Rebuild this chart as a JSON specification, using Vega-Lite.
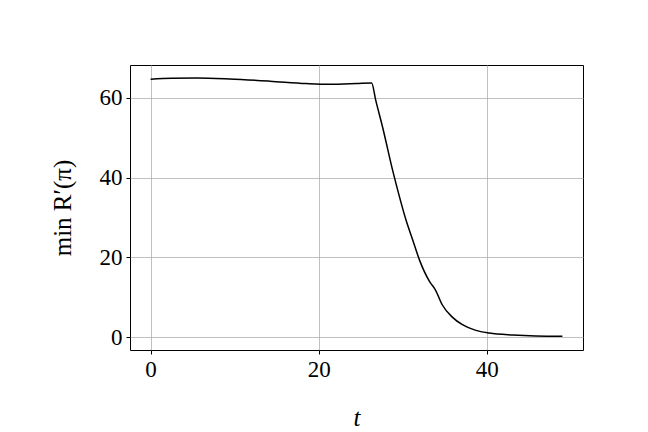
{
  "$schema": "https://vega.github.io/schema/vega-lite/v6.json",
  "width": 453,
  "height": 285,
  "autosize": {"type": "none"},
  "padding": {"left": 130, "top": 65, "right": 65, "bottom": 82},
  "background": "white",
  "config": {
    "view": {"stroke": "black", "strokeWidth": 1},
    "axis": {
      "labelFont": "Liberation Serif",
      "titleFont": "Liberation Serif",
      "labelFontSize": 23,
      "titleFontSize": 25,
      "labelColor": "black",
      "titleColor": "black",
      "titleFontWeight": "normal",
      "domain": false,
      "tickColor": "black",
      "tickSize": 4,
      "tickWidth": 1,
      "labelPadding": 4,
      "gridColor": "#b0b0b0",
      "gridWidth": 0.8
    }
  },
  "data": {
    "values": [
      {"t": 0, "v": 64.7},
      {"t": 2.5, "v": 64.9},
      {"t": 5.5, "v": 65.0},
      {"t": 9.4, "v": 64.75},
      {"t": 14.2, "v": 64.2},
      {"t": 18.5, "v": 63.6},
      {"t": 21.3, "v": 63.4},
      {"t": 24.5, "v": 63.6},
      {"t": 26.3, "v": 63.75},
      {"t": 26.8, "v": 59.3},
      {"t": 27.6, "v": 52.7},
      {"t": 28.8, "v": 41.8},
      {"t": 29.2, "v": 38.5},
      {"t": 30.4, "v": 29.3},
      {"t": 31.2, "v": 24.3},
      {"t": 32.0, "v": 19.3},
      {"t": 33.2, "v": 13.9},
      {"t": 33.9, "v": 11.8},
      {"t": 34.7, "v": 8.1},
      {"t": 35.9, "v": 5.0},
      {"t": 37.1, "v": 3.1},
      {"t": 38.7, "v": 1.67},
      {"t": 40.3, "v": 1.0},
      {"t": 43.1, "v": 0.5},
      {"t": 45.8, "v": 0.25},
      {"t": 49.0, "v": 0.17}
    ]
  },
  "mark": {"type": "line", "color": "black", "strokeWidth": 1.5, "interpolate": "monotone"},
  "encoding": {
    "x": {
      "field": "t", "type": "quantitative",
      "scale": {"domain": [-2.45, 51.45], "nice": false, "zero": false},
      "axis": {"values": [0, 20, 40], "title": "t", "titleFontStyle": "italic", "titlePadding": 24}
    },
    "y": {
      "field": "v", "type": "quantitative",
      "scale": {"domain": [-3.25, 68.25], "nice": false, "zero": false},
      "axis": {"values": [0, 20, 40, 60], "title": "min R′(π)", "titlePadding": 24}
    }
  }
}
